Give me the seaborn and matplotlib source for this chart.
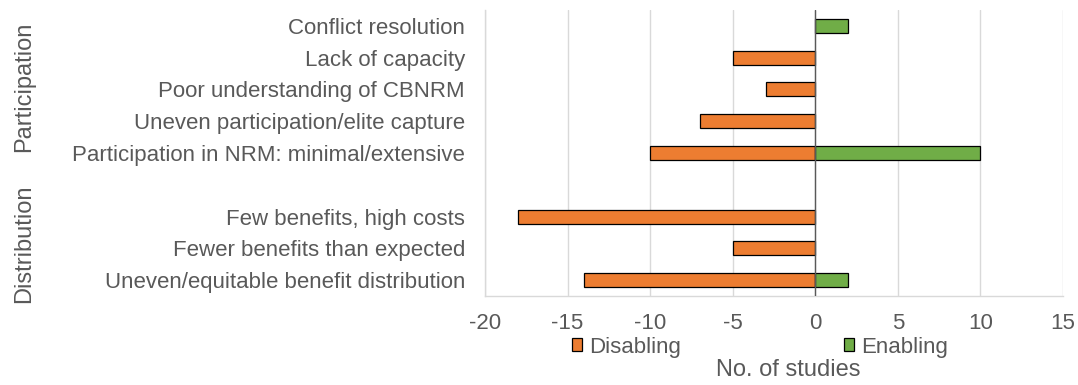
import matplotlib
matplotlib.use("Agg")
import matplotlib.pyplot as plt
import seaborn as sns
import pandas as pd
from matplotlib.patches import Patch

categories = [
    "Conflict resolution",
    "Lack of capacity",
    "Poor understanding of CBNRM",
    "Uneven participation/elite capture",
    "Participation in NRM: minimal/extensive",
    " ",
    "Few benefits, high costs",
    "Fewer benefits than expected",
    "Uneven/equitable benefit distribution",
]
disabling = [0, -5, -3, -7, -10, None, -18, -5, -14]
enabling = [2, 0, 0, 0, 10, None, 0, 0, 2]
series_names = ["Disabling", "Enabling"]
groups = ["Participation", "Distribution"]
xticks = [-20, -15, -10, -5, 0, 5, 10, 15]

rows = []
for c, d, e in zip(categories, disabling, enabling):
    if d is not None and d != 0:
        rows.append({"cat": c, "type": "Disabling", "value": d})
    if e is not None and e != 0:
        rows.append({"cat": c, "type": "Enabling", "value": e})
df = pd.DataFrame(rows)

sns.set_style("white")
plt.rcParams["font.family"] = ["Liberation Sans", "DejaVu Sans"]
gray = "#595959"
fs = 16

fig = plt.figure(figsize=(10.78, 3.85), dpi=100)
ax = fig.add_axes([485/1078, 1-296/385, (1063-485)/1078, (296-10)/385])

colors = {"Disabling": "#ED7D31", "Enabling": "#70AD47"}
sns.barplot(data=df, y="cat", x="value", hue="type", order=categories,
            hue_order=series_names, palette=colors, dodge=False, orient="h",
            width=0.44, saturation=1, edgecolor="black", linewidth=0.9, ax=ax,
            legend=False, zorder=3)

ax.set_xlim(-20, 15)
ax.set_xticks(xticks)
ax.set_xticklabels([str(t) for t in xticks])
ax.xaxis.grid(True, color="#D9D9D9", linewidth=1, zorder=0)
ax.axvline(0, color="#595959", linewidth=1, zorder=4)
ax.tick_params(axis="both", length=0, labelsize=fs, labelcolor=gray)
ax.tick_params(axis="x", pad=12.5)
ax.tick_params(axis="y", pad=14.4)
ax.set_ylabel("")
ax.set_xlabel("No. of studies", fontsize=17, color=gray)
ax.xaxis.set_label_coords((788-485)/578, -(359-296)/286)
for s in ["top", "right"]:
    ax.spines[s].set_visible(False)
for s in ["left", "bottom"]:
    ax.spines[s].set_color("#D9D9D9")
    ax.spines[s].set_linewidth(1)

fig.text(24/1078, 1-87/385, groups[0], rotation=90, ha="center", va="center",
         fontsize=17, color=gray)
fig.text(24/1078, 1-244/385, groups[1], rotation=90, ha="center", va="center",
         fontsize=17, color=gray)

handles = [Patch(facecolor=colors[n], edgecolor="black", linewidth=0.9) for n in series_names]
fig.legend(handles, series_names, loc="center", bbox_to_anchor=(760/1078, 1-347/385),
           ncol=2, frameon=False, fontsize=fs, labelcolor=gray, columnspacing=7.3,
           handlelength=0.47, handleheight=0.47, handletextpad=0.33,
           borderpad=0, borderaxespad=0)

fig.savefig("out.png", dpi=100)
